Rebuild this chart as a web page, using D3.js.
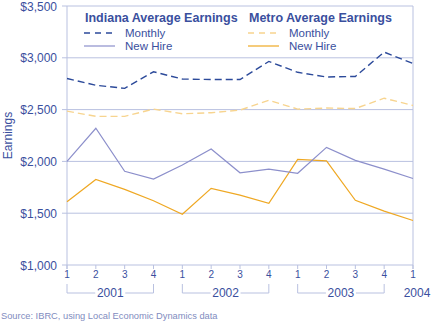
<!DOCTYPE html>
<html>
<head>
<meta charset="utf-8">
<script src="https://cdn.jsdelivr.net/npm/d3@7"></script>
<style>
  body { margin: 0; background: #fff; }
  svg text { font-family: "Liberation Sans", Arial, sans-serif; fill: #3a4f9e; }
</style>
</head>
<body>
<svg width="431" height="322"></svg>
<script>
// quarters 2001Q1 .. 2004Q1
var quarters = ["1","2","3","4","1","2","3","4","1","2","3","4","1"];
var years = ["2001", "2002", "2003", "2004"];
var indianaMonthly = [2800, 2735, 2705, 2865, 2795, 2790, 2790, 2965, 2860, 2815, 2820, 3055, 2945];
var indianaNewHire = [2000, 2320, 1905, 1830, 1965, 2120, 1890, 1925, 1885, 2135, 2010, 1925, 1835];
var metroMonthly = [2485, 2435, 2435, 2505, 2460, 2470, 2495, 2590, 2505, 2515, 2510, 2610, 2540];
var metroNewHire = [1610, 1825, 1730, 1620, 1490, 1740, 1675, 1595, 2020, 2005, 1625, 1520, 1430];
var yTicks = [1000, 1500, 2000, 2500, 3000, 3500];

var svg = d3.select("svg");
var plotLeft = 67, plotRight = 413, plotTop = 6, plotBottom = 265;

var x = d3.scalePoint()
  .domain(d3.range(quarters.length))
  .range([plotLeft, plotRight]);

var y = d3.scaleLinear()
  .domain([1000, 3500])
  .range([plotBottom, plotTop]);

var gridColor = "#b9c1e0";

// gridlines
svg.append("g")
  .selectAll("line")
  .data(yTicks)
  .enter().append("line")
  .attr("x1", plotLeft - 5)
  .attr("x2", plotRight)
  .attr("y1", d => y(d))
  .attr("y2", d => y(d))
  .attr("stroke", gridColor)
  .attr("stroke-width", 1);

// left and right borders
svg.append("line")
  .attr("x1", plotLeft).attr("x2", plotLeft)
  .attr("y1", plotTop).attr("y2", plotBottom + 4)
  .attr("stroke", gridColor);
svg.append("line")
  .attr("x1", plotRight).attr("x2", plotRight)
  .attr("y1", plotTop).attr("y2", plotBottom + 4)
  .attr("stroke", gridColor);

// y labels
svg.append("g")
  .selectAll("text")
  .data(yTicks)
  .enter().append("text")
  .attr("x", 57)
  .attr("y", d => y(d) + 4.5)
  .attr("text-anchor", "end")
  .style("font-size", "12px")
  .text(d => "$" + d3.format(",")(d));

svg.append("text")
  .attr("transform", "translate(12," + ((plotTop + plotBottom) / 2) + ") rotate(-90)")
  .attr("text-anchor", "middle")
  .style("font-size", "12px")
  .text("Earnings");

// x ticks and labels
var xg = svg.append("g");
xg.selectAll("line")
  .data(quarters)
  .enter().append("line")
  .attr("x1", (d, i) => x(i))
  .attr("x2", (d, i) => x(i))
  .attr("y1", plotBottom)
  .attr("y2", plotBottom + 4)
  .attr("stroke", gridColor);
xg.selectAll("text")
  .data(quarters)
  .enter().append("text")
  .attr("x", (d, i) => x(i))
  .attr("y", 278)
  .attr("text-anchor", "middle")
  .style("font-size", "10px")
  .text(d => d);

// year brackets
var yearSpans = [[0, 3], [4, 7], [8, 11], [12, 12]];
years.forEach(function(yr, k) {
  var s = yearSpans[k];
  var x0 = x(s[0]), x1 = x(s[1]), cx = (x0 + x1) / 2;
  var g = svg.append("g");
  var single = s[0] === s[1];
  if (!single) {
    var half = 15;
    g.append("path")
      .attr("d", "M" + x0 + ",284V293H" + (cx - half) + "M" + (cx + half) + ",293H" + x1 + "V284")
      .attr("fill", "none")
      .attr("stroke", gridColor);
  }
  g.append("text")
    .attr("x", cx + (single ? 4 : 0))
    .attr("y", 297)
    .attr("text-anchor", "middle")
    .style("font-size", "12px")
    .text(yr);
});

// series
var series = [
  { values: metroMonthly, color: "#f7d48f", dash: "7,4", width: 1.4 },
  { values: metroNewHire, color: "#efa823", dash: null, width: 1.2 },
  { values: indianaNewHire, color: "#8c8fcb", dash: null, width: 1.2 },
  { values: indianaMonthly, color: "#2c4a9a", dash: "7,4", width: 1.4 }
];
var line = d3.line()
  .x((d, i) => x(i))
  .y(d => y(d));

svg.append("g")
  .selectAll("path")
  .data(series)
  .enter().append("path")
  .attr("d", d => line(d.values))
  .attr("fill", "none")
  .attr("stroke", d => d.color)
  .attr("stroke-width", d => d.width)
  .attr("stroke-dasharray", d => d.dash);

// legends
function legend(x0, title, monthlyColor, hireColor) {
  var g = svg.append("g").attr("transform", "translate(" + x0 + ",0)");
  g.append("text")
    .attr("x", 1).attr("y", 22)
    .style("font-size", "12.5px")
    .style("font-weight", "bold")
    .text(title);
  g.append("line")
    .attr("x1", 0).attr("x2", 31).attr("y1", 33).attr("y2", 33)
    .attr("stroke", monthlyColor).attr("stroke-width", 1.3)
    .attr("stroke-dasharray", "6,5");
  g.append("line")
    .attr("x1", 0).attr("x2", 31).attr("y1", 46).attr("y2", 46)
    .attr("stroke", hireColor).attr("stroke-width", 1.2);
  g.append("text")
    .attr("x", 41).attr("y", 37)
    .style("font-size", "11.5px")
    .text("Monthly");
  g.append("text")
    .attr("x", 41).attr("y", 50)
    .style("font-size", "11.5px")
    .text("New Hire");
}
legend(84, "Indiana Average Earnings", "#2c4a9a", "#8c8fcb");
legend(248, "Metro Average Earnings", "#f7d48f", "#efa823");

svg.append("text")
  .attr("x", 1)
  .attr("y", 319)
  .style("font-size", "9.3px")
  .style("fill", "#7f8cc0")
  .text("Source: IBRC, using Local Economic Dynamics data");
</script>
</body>
</html>
